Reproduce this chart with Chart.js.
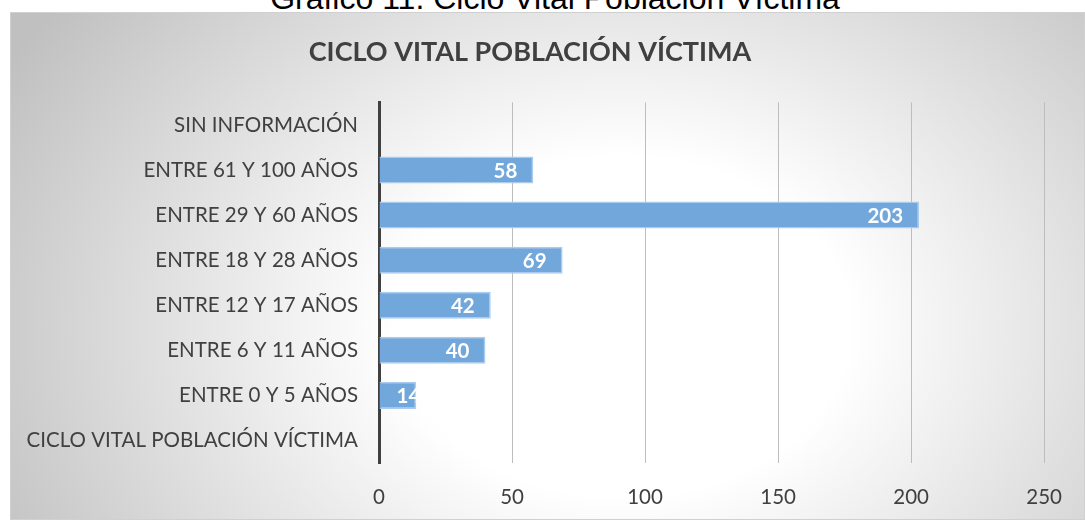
<!DOCTYPE html>
<html lang="es">
<head>
  <meta charset="UTF-8">
  <title>Ciclo vital población víctima</title>
  <script src="https://cdn.jsdelivr.net/npm/chart.js"></script>
  <style>
    body {
      margin: 0;
      width: 1085px;
      height: 520px;
      overflow: hidden;
      background: #ffffff;
      position: relative;
    }

    #caption {
      position: absolute;
      left: 0;
      width: 1110px;
      top: -18px;
      text-align: center;
      font-family: "Liberation Sans", Arial, sans-serif;
      font-size: 32px;
      line-height: 32px;
      color: #000;
      white-space: nowrap;
    }

    #frame {
      position: absolute;
      left: 10px;
      top: 12px;
      width: 1075px;
      height: 508px;
      box-sizing: border-box;
      border: 1px solid #d0d0d0;
      background: radial-gradient(ellipse 66% 105% at 57% 62%, #ffffff 0%, #ffffff 32%, #c0c0c0 100%);
    }

    canvas {
      display: block;
    }
  </style>
</head>
<body>
  <div id="caption">Gráfico 11. Ciclo Vital Población Víctima</div>
  <div id="frame">
    <canvas id="cicloChart" width="1073" height="506"></canvas>
  </div>
  <script>
    const categories = [
      "SIN INFORMACIÓN",
      "ENTRE 61 Y 100 AÑOS",
      "ENTRE 29 Y 60 AÑOS",
      "ENTRE 18 Y 28 AÑOS",
      "ENTRE 12 Y 17 AÑOS",
      "ENTRE 6 Y 11 AÑOS",
      "ENTRE 0 Y 5 AÑOS",
      "CICLO VITAL POBLACIÓN VÍCTIMA"
    ];
    const values = [null, 58, 203, 69, 42, 40, 14, null];
    const xTicks = [0, 50, 100, 150, 200, 250];

    // etiquetas blancas dentro del extremo de cada barra (recortadas a la barra)
    const barLabels = {
      id: "barLabels",
      afterDatasetsDraw(chart) {
        const ctx = chart.ctx;
        chart.getDatasetMeta(0).data.forEach((bar, i) => {
          const v = values[i];
          if (v == null) return;
          const p = bar.getProps(["x", "y", "base", "height"], true);
          ctx.save();
          ctx.beginPath();
          ctx.rect(p.base, p.y - p.height / 2, p.x - p.base, p.height);
          ctx.clip();
          ctx.font = "bold 20.5px Lato";
          ctx.fillStyle = "#ffffff";
          ctx.textBaseline = "middle";
          ctx.textAlign = "left";
          const txt = String(v);
          const w = ctx.measureText(txt).width;
          const left = Math.max(p.x - 16 - w, p.base + 17);
          ctx.fillText(txt, left, p.y + 1);
          ctx.restore();
        });
      }
    };

    new Chart(document.getElementById("cicloChart"), {
      type: "bar",
      data: {
        labels: categories,
        datasets: [{
          data: values,
          backgroundColor: "#72a7db",
          borderColor: "#a8cbee",
          borderWidth: 1.5,
          borderSkipped: "start",
          barPercentage: 0.6,
          categoryPercentage: 1.0
        }]
      },
      options: {
        indexAxis: "y",
        responsive: false,
        animation: false,
        layout: {
          padding: { left: 0, right: 35, top: 0, bottom: 11 }
        },
        plugins: {
          legend: { display: false },
          tooltip: { enabled: false },
          title: {
            display: true,
            text: "CICLO VITAL POBLACIÓN VÍCTIMA",
            color: "#404040",
            font: { family: "Lato", size: 27, weight: "bold" },
            padding: { top: 23, bottom: 34 }
          }
        },
        scales: {
          x: {
            min: 0,
            max: 250,
            afterBuildTicks: (scale) => {
              scale.ticks = xTicks.map(v => ({ value: v }));
            },
            afterFit: (scale) => { scale.height = 45; },
            grid: { color: "#bdbdbd", lineWidth: 1, drawTicks: false },
            border: { display: false },
            ticks: {
              color: "#404040",
              font: { family: "Lato", size: 20.5 },
              padding: 22
            }
          },
          y: {
            afterFit: (scale) => { scale.width = 368; },
            grid: { display: false, drawTicks: false },
            border: { display: true, color: "#404040", width: 3 },
            ticks: {
              color: "#404040",
              font: { family: "Lato", size: 20.5 },
              padding: 21
            }
          }
        }
      },
      plugins: [barLabels]
    });
  </script>
</body>
</html>
